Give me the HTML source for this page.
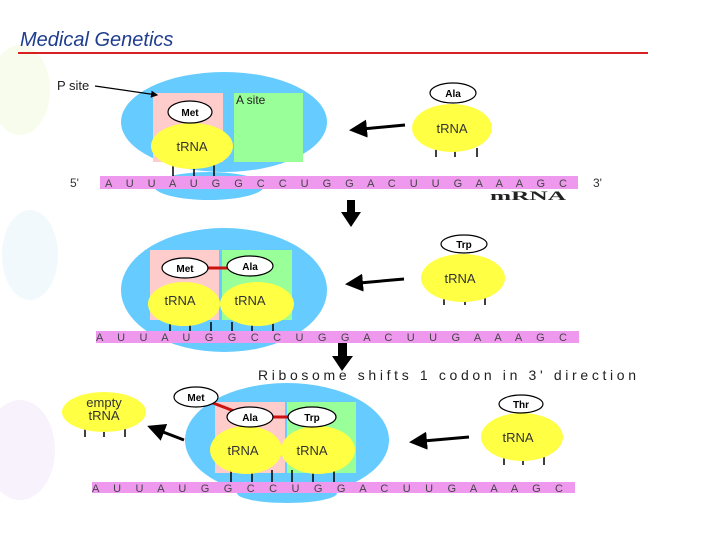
<!DOCTYPE html>
<html><head><meta charset="utf-8"><style>
html,body{margin:0;padding:0;background:#fff;}
svg{display:block;}
</style></head><body>
<svg width="720" height="540" viewBox="0 0 720 540" xmlns="http://www.w3.org/2000/svg" font-family="Liberation Sans, sans-serif">
<defs>
<marker id="ah" markerWidth="6" markerHeight="6" refX="5" refY="3" orient="auto" markerUnits="strokeWidth"><path d="M0,0 L6,3 L0,6 z" fill="#000"/></marker>
</defs>
<ellipse cx="20" cy="90" rx="30" ry="45" fill="#f8fcec"/>
<ellipse cx="30" cy="255" rx="28" ry="45" fill="#f2f9fd"/>
<ellipse cx="20" cy="450" rx="35" ry="50" fill="#f8f2fc"/>
<text x="20" y="46" font-size="20" font-style="italic" fill="#1f3d8f">Medical Genetics</text>
<rect x="18" y="52" width="630" height="2" fill="#d82020"/>

<!-- PANEL 1 -->
<ellipse cx="209" cy="186" rx="55" ry="14" fill="#66ccff"/>
<ellipse cx="224" cy="122" rx="103" ry="50" fill="#66ccff"/>
<rect x="153" y="93" width="70" height="69" fill="#ffcccc"/>
<rect x="234" y="93" width="69" height="69" fill="#99ff99"/>
<text x="236" y="104" font-size="12" fill="#222">A site</text>
<text x="57" y="90" font-size="13" fill="#222">P site</text>
<line x1="95" y1="86" x2="157" y2="95" stroke="#000" stroke-width="1.2" marker-end="url(#ah)"/>
<g stroke="#000" stroke-width="1.5"><line x1="173" y1="165" x2="173" y2="176"/><line x1="194" y1="165" x2="194" y2="176"/><line x1="214" y1="165" x2="214" y2="176"/></g>
<ellipse cx="192" cy="146" rx="41" ry="23" fill="#ffff44"/>
<text x="192" y="151" font-size="13" text-anchor="middle" fill="#333">tRNA</text>
<ellipse cx="190" cy="112" rx="22" ry="11" fill="#fff" stroke="#000" stroke-width="1.2"/>
<text x="190" y="116" font-size="10" font-weight="bold" text-anchor="middle">Met</text>
<rect x="100" y="176" width="478" height="13" fill="#ee99ee"/>
<text x="105" y="187" font-size="11" fill="#444" textLength="462" lengthAdjust="spacing">A U U A U G G C C U G G A C U U G A A A G C</text>
<text x="70" y="187" font-size="12" fill="#333">5'</text>
<text x="593" y="187" font-size="12" fill="#333">3'</text>
<text x="490" y="200" font-size="13" font-weight="bold" font-family="Liberation Serif, serif" fill="#222" textLength="76" lengthAdjust="spacingAndGlyphs">mRNA</text>
<line x1="405" y1="125" x2="352" y2="130" stroke="#000" stroke-width="3" marker-end="url(#ah)"/>
<g stroke="#000" stroke-width="1.5"><line x1="436" y1="148" x2="436" y2="157"/><line x1="455" y1="148" x2="455" y2="157"/><line x1="477" y1="148" x2="477" y2="157"/></g>
<ellipse cx="452" cy="128" rx="40" ry="24" fill="#ffff44"/>
<text x="452" y="133" font-size="13" text-anchor="middle" fill="#333">tRNA</text>
<ellipse cx="453" cy="93" rx="23" ry="10" fill="#fff" stroke="#000" stroke-width="1.2"/>
<text x="453" y="97" font-size="10" font-weight="bold" text-anchor="middle">Ala</text>
<rect x="347" y="200" width="8" height="12" fill="#000"/>
<path d="M341,212 L361,212 L351,227 z" fill="#000"/>

<!-- PANEL 2 -->
<ellipse cx="224" cy="290" rx="103" ry="62" fill="#66ccff"/>
<rect x="150" y="250" width="69" height="70" fill="#ffcccc"/>
<rect x="222" y="250" width="70" height="70" fill="#99ff99"/>
<g stroke="#000" stroke-width="1.5"><line x1="170" y1="322" x2="170" y2="332"/><line x1="190" y1="322" x2="190" y2="332"/><line x1="211" y1="322" x2="211" y2="332"/><line x1="232" y1="322" x2="232" y2="332"/><line x1="252" y1="322" x2="252" y2="332"/><line x1="273" y1="322" x2="273" y2="332"/></g>
<ellipse cx="184" cy="304" rx="36" ry="22" fill="#ffff44"/>
<ellipse cx="257" cy="304" rx="37" ry="22" fill="#ffff44"/>
<text x="180" y="305" font-size="13" text-anchor="middle" fill="#333">tRNA</text>
<text x="250" y="305" font-size="13" text-anchor="middle" fill="#333">tRNA</text>
<line x1="207" y1="268" x2="228" y2="268" stroke="#cc1111" stroke-width="3"/>
<ellipse cx="185" cy="268" rx="23" ry="10" fill="#fff" stroke="#000" stroke-width="1.2"/>
<text x="185" y="272" font-size="10" font-weight="bold" text-anchor="middle">Met</text>
<ellipse cx="250" cy="266" rx="23" ry="10" fill="#fff" stroke="#000" stroke-width="1.2"/>
<text x="250" y="270" font-size="10" font-weight="bold" text-anchor="middle">Ala</text>
<rect x="96" y="331" width="483" height="12" fill="#ee99ee"/>
<text x="96" y="341" font-size="11" fill="#444" textLength="471" lengthAdjust="spacing">A U U A U G G C C U G G A C U U G A A A G C</text>
<line x1="404" y1="279" x2="348" y2="284" stroke="#000" stroke-width="3" marker-end="url(#ah)"/>
<g stroke="#000" stroke-width="1.5"><line x1="444" y1="297" x2="444" y2="305"/><line x1="465" y1="297" x2="465" y2="305"/><line x1="485" y1="297" x2="485" y2="305"/></g>
<ellipse cx="463" cy="278" rx="42" ry="24" fill="#ffff44"/>
<text x="460" y="283" font-size="13" text-anchor="middle" fill="#333">tRNA</text>
<ellipse cx="464" cy="244" rx="23" ry="9" fill="#fff" stroke="#000" stroke-width="1.2"/>
<text x="464" y="248" font-size="10" font-weight="bold" text-anchor="middle">Trp</text>
<rect x="338" y="343" width="9" height="14" fill="#000"/>
<path d="M332,356 L353,356 L342,371 z" fill="#000"/>
<text x="258" y="380" font-size="14" fill="#222" textLength="378" lengthAdjust="spacing">Ribosome shifts 1 codon in 3' direction</text>

<!-- PANEL 3 -->
<ellipse cx="287" cy="440" rx="102" ry="57" fill="#66ccff"/>
<ellipse cx="287" cy="493" rx="50" ry="10" fill="#66ccff"/>
<rect x="215" y="402" width="70" height="71" fill="#ffcccc"/>
<rect x="287" y="402" width="69" height="71" fill="#99ff99"/>
<g stroke="#000" stroke-width="1.5"><line x1="231" y1="470" x2="231" y2="482"/><line x1="252" y1="470" x2="252" y2="482"/><line x1="272" y1="470" x2="272" y2="482"/><line x1="292" y1="470" x2="292" y2="482"/><line x1="313" y1="470" x2="313" y2="482"/><line x1="334" y1="470" x2="334" y2="482"/></g>
<ellipse cx="246" cy="450" rx="36" ry="24" fill="#ffff44"/>
<ellipse cx="318" cy="450" rx="37" ry="24" fill="#ffff44"/>
<text x="243" y="455" font-size="13" text-anchor="middle" fill="#333">tRNA</text>
<text x="312" y="455" font-size="13" text-anchor="middle" fill="#333">tRNA</text>
<line x1="213" y1="403" x2="234" y2="411" stroke="#cc1111" stroke-width="3"/>
<line x1="272" y1="417" x2="290" y2="417" stroke="#cc1111" stroke-width="3"/>
<ellipse cx="196" cy="397" rx="22" ry="10" fill="#fff" stroke="#000" stroke-width="1.2"/>
<text x="196" y="401" font-size="10" font-weight="bold" text-anchor="middle">Met</text>
<ellipse cx="250" cy="417" rx="23" ry="10" fill="#fff" stroke="#000" stroke-width="1.2"/>
<text x="250" y="421" font-size="10" font-weight="bold" text-anchor="middle">Ala</text>
<ellipse cx="312" cy="417" rx="24" ry="10" fill="#fff" stroke="#000" stroke-width="1.2"/>
<text x="312" y="421" font-size="10" font-weight="bold" text-anchor="middle">Trp</text>
<rect x="92" y="482" width="483" height="11" fill="#ee99ee"/>
<text x="92" y="492" font-size="11" fill="#444" textLength="471" lengthAdjust="spacing">A U U A U G G C C U G G A C U U G A A A G C</text>
<g stroke="#000" stroke-width="1.5"><line x1="85" y1="429" x2="85" y2="437"/><line x1="104" y1="429" x2="104" y2="437"/><line x1="125" y1="429" x2="125" y2="437"/></g>
<ellipse cx="104" cy="412" rx="42" ry="20" fill="#ffff44"/>
<text x="104" y="407" font-size="13" text-anchor="middle" fill="#333">empty</text>
<text x="104" y="420" font-size="13" text-anchor="middle" fill="#333">tRNA</text>
<line x1="184" y1="440" x2="150" y2="427" stroke="#000" stroke-width="3" marker-end="url(#ah)"/>
<line x1="469" y1="437" x2="412" y2="442" stroke="#000" stroke-width="3" marker-end="url(#ah)"/>
<g stroke="#000" stroke-width="1.5"><line x1="504" y1="457" x2="504" y2="465"/><line x1="523" y1="457" x2="523" y2="465"/><line x1="544" y1="457" x2="544" y2="465"/></g>
<ellipse cx="522" cy="437" rx="41" ry="24" fill="#ffff44"/>
<text x="518" y="442" font-size="13" text-anchor="middle" fill="#333">tRNA</text>
<ellipse cx="521" cy="404" rx="22" ry="9" fill="#fff" stroke="#000" stroke-width="1.2"/>
<text x="521" y="408" font-size="10" font-weight="bold" text-anchor="middle">Thr</text>
</svg>
</body></html>
